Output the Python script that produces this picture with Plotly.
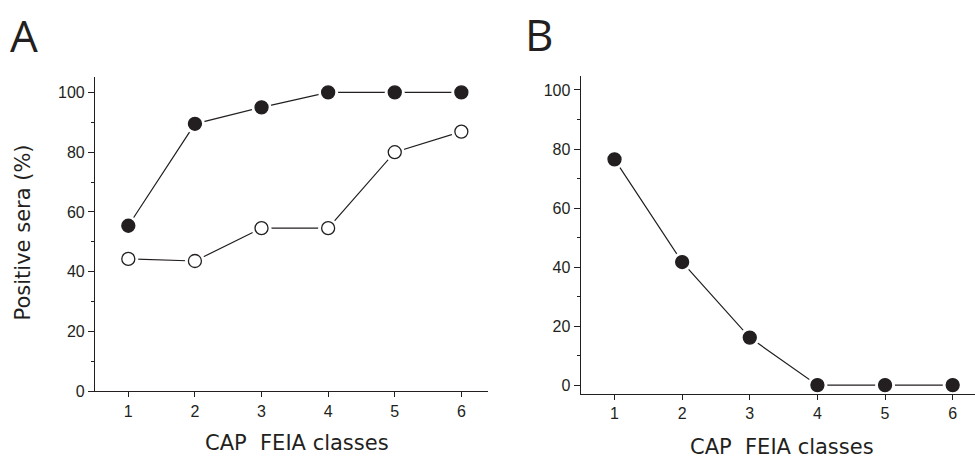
import plotly.graph_objects as go

classes = [1, 2, 3, 4, 5, 6]
a_filled = [55.4, 89.5, 95.0, 100, 100, 100]
a_open = [44.3, 43.6, 54.6, 54.6, 80.0, 86.9]
b_filled = [76.5, 41.7, 16.1, 0, 0, 0]

INK = "#231f20"
W, H = 975, 468

fig = go.Figure()

def add_series(x, y, xa, ya, fill):
    fig.add_trace(go.Scatter(x=x, y=y, mode="lines", line=dict(color=INK, width=1.2),
                             xaxis=xa, yaxis=ya, showlegend=False, hoverinfo="skip"))
    fig.add_trace(go.Scatter(x=x, y=y, mode="markers",
                             marker=dict(size=20, color="white", line=dict(width=0)),
                             xaxis=xa, yaxis=ya, showlegend=False, hoverinfo="skip", cliponaxis=False))
    fig.add_trace(go.Scatter(x=x, y=y, mode="markers",
                             marker=dict(size=13, color=INK if fill else "white",
                                         line=dict(color=INK, width=1.3)),
                             xaxis=xa, yaxis=ya, showlegend=False, cliponaxis=False))

add_series(classes, a_filled, "x", "y", True)
add_series(classes, a_open, "x", "y", False)
add_series(classes, b_filled, "x2", "y2", True)

tickfont = dict(family="Liberation Sans, Arial", size=16, color=INK)
xcommon = dict(tickmode="array", tickvals=classes, ticktext=[str(c) for c in classes],
               ticks="outside", ticklen=5, tickwidth=1.2, tickcolor=INK,
               showline=True, linecolor=INK, linewidth=1.2, showgrid=False, zeroline=False,
               tickfont=tickfont)
ycommon = dict(tickmode="linear", tick0=0, dtick=20, ticks="outside", ticklen=6, tickwidth=1.2,
               tickcolor=INK, showline=True, linecolor=INK, linewidth=1.2, showgrid=False,
               zeroline=False, tickfont=tickfont,
               minor=dict(tick0=0, dtick=10, ticks="outside", ticklen=3, tickwidth=1.2,
                          tickcolor=INK, showgrid=False))

fig.update_layout(
    width=W, height=H, margin=dict(l=0, r=0, t=0, b=0),
    paper_bgcolor="white", plot_bgcolor="white",
    xaxis=dict(domain=[95 / W, 488 / W], range=[0.5, 6.4], anchor="y", **xcommon),
    yaxis=dict(domain=[(H - 399) / H, (H - 79) / H], range=[0, 105], anchor="x", **ycommon),
    xaxis2=dict(domain=[580.7 / W, 1.0], range=[0.5, 6.33], anchor="y2", **xcommon),
    yaxis2=dict(domain=[(H - 401.7) / H, (H - 77) / H], range=[-3, 104.9], anchor="x2", **ycommon),
)

def ann(text, x, y, size, family, angle=0):
    fig.add_annotation(text=text, xref="paper", yref="paper", x=x / W, y=1 - y / H,
                       xanchor="center", yanchor="middle", showarrow=False, textangle=angle,
                       font=dict(family=family, size=size, color=INK))

ann("A", 24, 36, 44, "Open Sans")
ann("B", 539, 35, 44, "Open Sans")
ann("Positive sera (%)", 23, 237, 21, "DejaVu Sans", -90)
ann("CAP\u00a0 FEIA classes", 297, 452, 21, "DejaVu Sans")
ann("CAP\u00a0 FEIA classes", 782, 456, 21, "DejaVu Sans")

fig.write_html("out.html", config={"displayModeBar": False},
               post_script="document.body.style.margin='0';document.body.style.overflow='hidden';")
